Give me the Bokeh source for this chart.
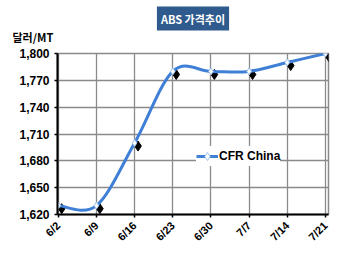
import math
from bokeh.plotting import figure
from bokeh.models import (ColumnDataSource, FixedTicker, NumeralTickFormatter, Range1d,
                          Title, Legend, LegendItem)
from bokeh.transform import dodge
from bokeh.embed import file_html
from bokeh.resources import INLINE

# ---- data ----
categories = ["6/2", "6/9", "6/16", "6/23", "6/30", "7/7", "7/14", "7/21"]
cfr_china = [1630, 1630, 1700, 1780, 1780, 1780, 1790, 1800]
y_ticks = [1620, 1650, 1680, 1710, 1740, 1770, 1800]
series_name = "CFR China"
title_text = "ABS 가격추이"
unit_text = "달러/MT"

xs = list(range(len(categories)))

# smoothed (Catmull-Rom -> Bezier) segment control points, like a smoothed spreadsheet line
def ctrl(vals):
    n = len(vals)
    p = [vals[0]] + list(vals) + [vals[-1]]
    x0, x1, c0, c1 = [], [], [], []
    for i in range(n - 1):
        a, b, c, d = p[i], p[i + 1], p[i + 2], p[i + 3]
        x0.append(b); x1.append(c)
        c0.append(b + (c - a) / 6.0); c1.append(c - (d - b) / 6.0)
    return x0, x1, c0, c1

bx0, bx1, bcx0, bcx1 = ctrl(xs)
by0, by1, bcy0, bcy1 = ctrl(cfr_china)
bez_src = ColumnDataSource(dict(x0=bx0, y0=by0, x1=bx1, y1=by1,
                                cx0=bcx0, cy0=bcy0, cx1=bcx1, cy1=bcy1))
pt_src = ColumnDataSource(dict(x=xs, y=cfr_china))

p = figure(width=350, height=261, output_backend="svg", toolbar_location=None,
           x_range=Range1d(-0.02, 7.08), y_range=Range1d(1620, 1800),
           min_border_left=57, min_border_right=22, min_border_top=0, min_border_bottom=48)
p.frame_width = 271
p.frame_height = 161
p.background_fill_color = "white"
p.border_fill_color = "white"
p.outline_line_color = "#8a8a8a"
p.outline_line_width = 1.5

BLUE = "#3f7fd6"

# shadow-like black markers
p.scatter(x=dodge("x", 0.09), y=dodge("y", -3.5), source=pt_src, marker="diamond",
          size=10, fill_color="black", line_color="black")
bez = p.bezier(x0="x0", y0="y0", x1="x1", y1="y1", cx0="cx0", cy0="cy0", cx1="cx1", cy1="cy1",
               source=bez_src, line_color=BLUE, line_width=3)
pts = p.scatter(x="x", y="y", source=pt_src, marker="diamond", size=7,
                fill_color="white", line_color="#9dc3ee", line_width=1)
# single-point line: invisible on the plot, used only for the legend sample
leg_line = p.line(x=xs[:1], y=cfr_china[:1], line_color=BLUE, line_width=3)

# axes
p.xaxis.ticker = FixedTicker(ticks=xs)
p.xaxis.major_label_overrides = {i: c for i, c in enumerate(categories)}
p.xaxis.major_label_orientation = math.pi / 4
p.yaxis.ticker = FixedTicker(ticks=y_ticks)
p.yaxis.formatter = NumeralTickFormatter(format="0,0")
for ax in (p.xaxis, p.yaxis):
    ax.axis_line_color = "black"
    ax.axis_line_width = 2
    ax.major_tick_line_color = "black"
    ax.major_tick_line_width = 1.5
    ax.major_tick_out = 3
    ax.major_tick_in = 0
    ax.minor_tick_line_color = None
    ax.major_label_text_font = "Liberation Sans"
    ax.major_label_text_font_style = "bold"
    ax.major_label_text_color = "black"
p.yaxis.major_label_text_font_size = "12px"
p.xaxis.major_label_text_font_size = "11px"
p.yaxis.major_label_standoff = 5
p.xaxis.major_label_standoff = 6

p.xgrid.grid_line_color = "#8a8a8a"
p.ygrid.grid_line_color = "#8a8a8a"
p.xgrid.grid_line_width = 1.3
p.ygrid.grid_line_width = 1.3

legend = Legend(items=[LegendItem(label=series_name, renderers=[leg_line, pts])],
                location=(139, 48), orientation="vertical")
legend.background_fill_color = "white"
legend.background_fill_alpha = 1
legend.border_line_color = None
legend.label_text_font = "Liberation Sans"
legend.label_text_font_style = "bold"
legend.label_text_font_size = "12px"
legend.label_text_color = "black"
legend.glyph_width = 22
legend.label_standoff = 1
legend.padding = 9
legend.margin = 0
p.add_layout(legend, "center")

# unit label (closest to frame), boxed title above it, small spacer on top
unit = Title(text=unit_text, align="left", offset=-45, standoff=17,
             text_font="Noto Sans CJK KR", text_font_style="bold",
             text_font_size="11px", text_color="black")
main = Title(text=title_text, align="center", standoff=-24,
             text_font="Noto Sans CJK KR", text_font_style="bold",
             text_font_size="11px", text_color="white",
             background_fill_color="#2f5a8e", padding=4)
spacer = Title(text=" ", align="center", standoff=13, text_font_size="1px")
p.title = None
p.add_layout(unit, "above")
p.add_layout(main, "above")
p.add_layout(spacer, "above")

open("out.html", "w").write(file_html(p, INLINE))
